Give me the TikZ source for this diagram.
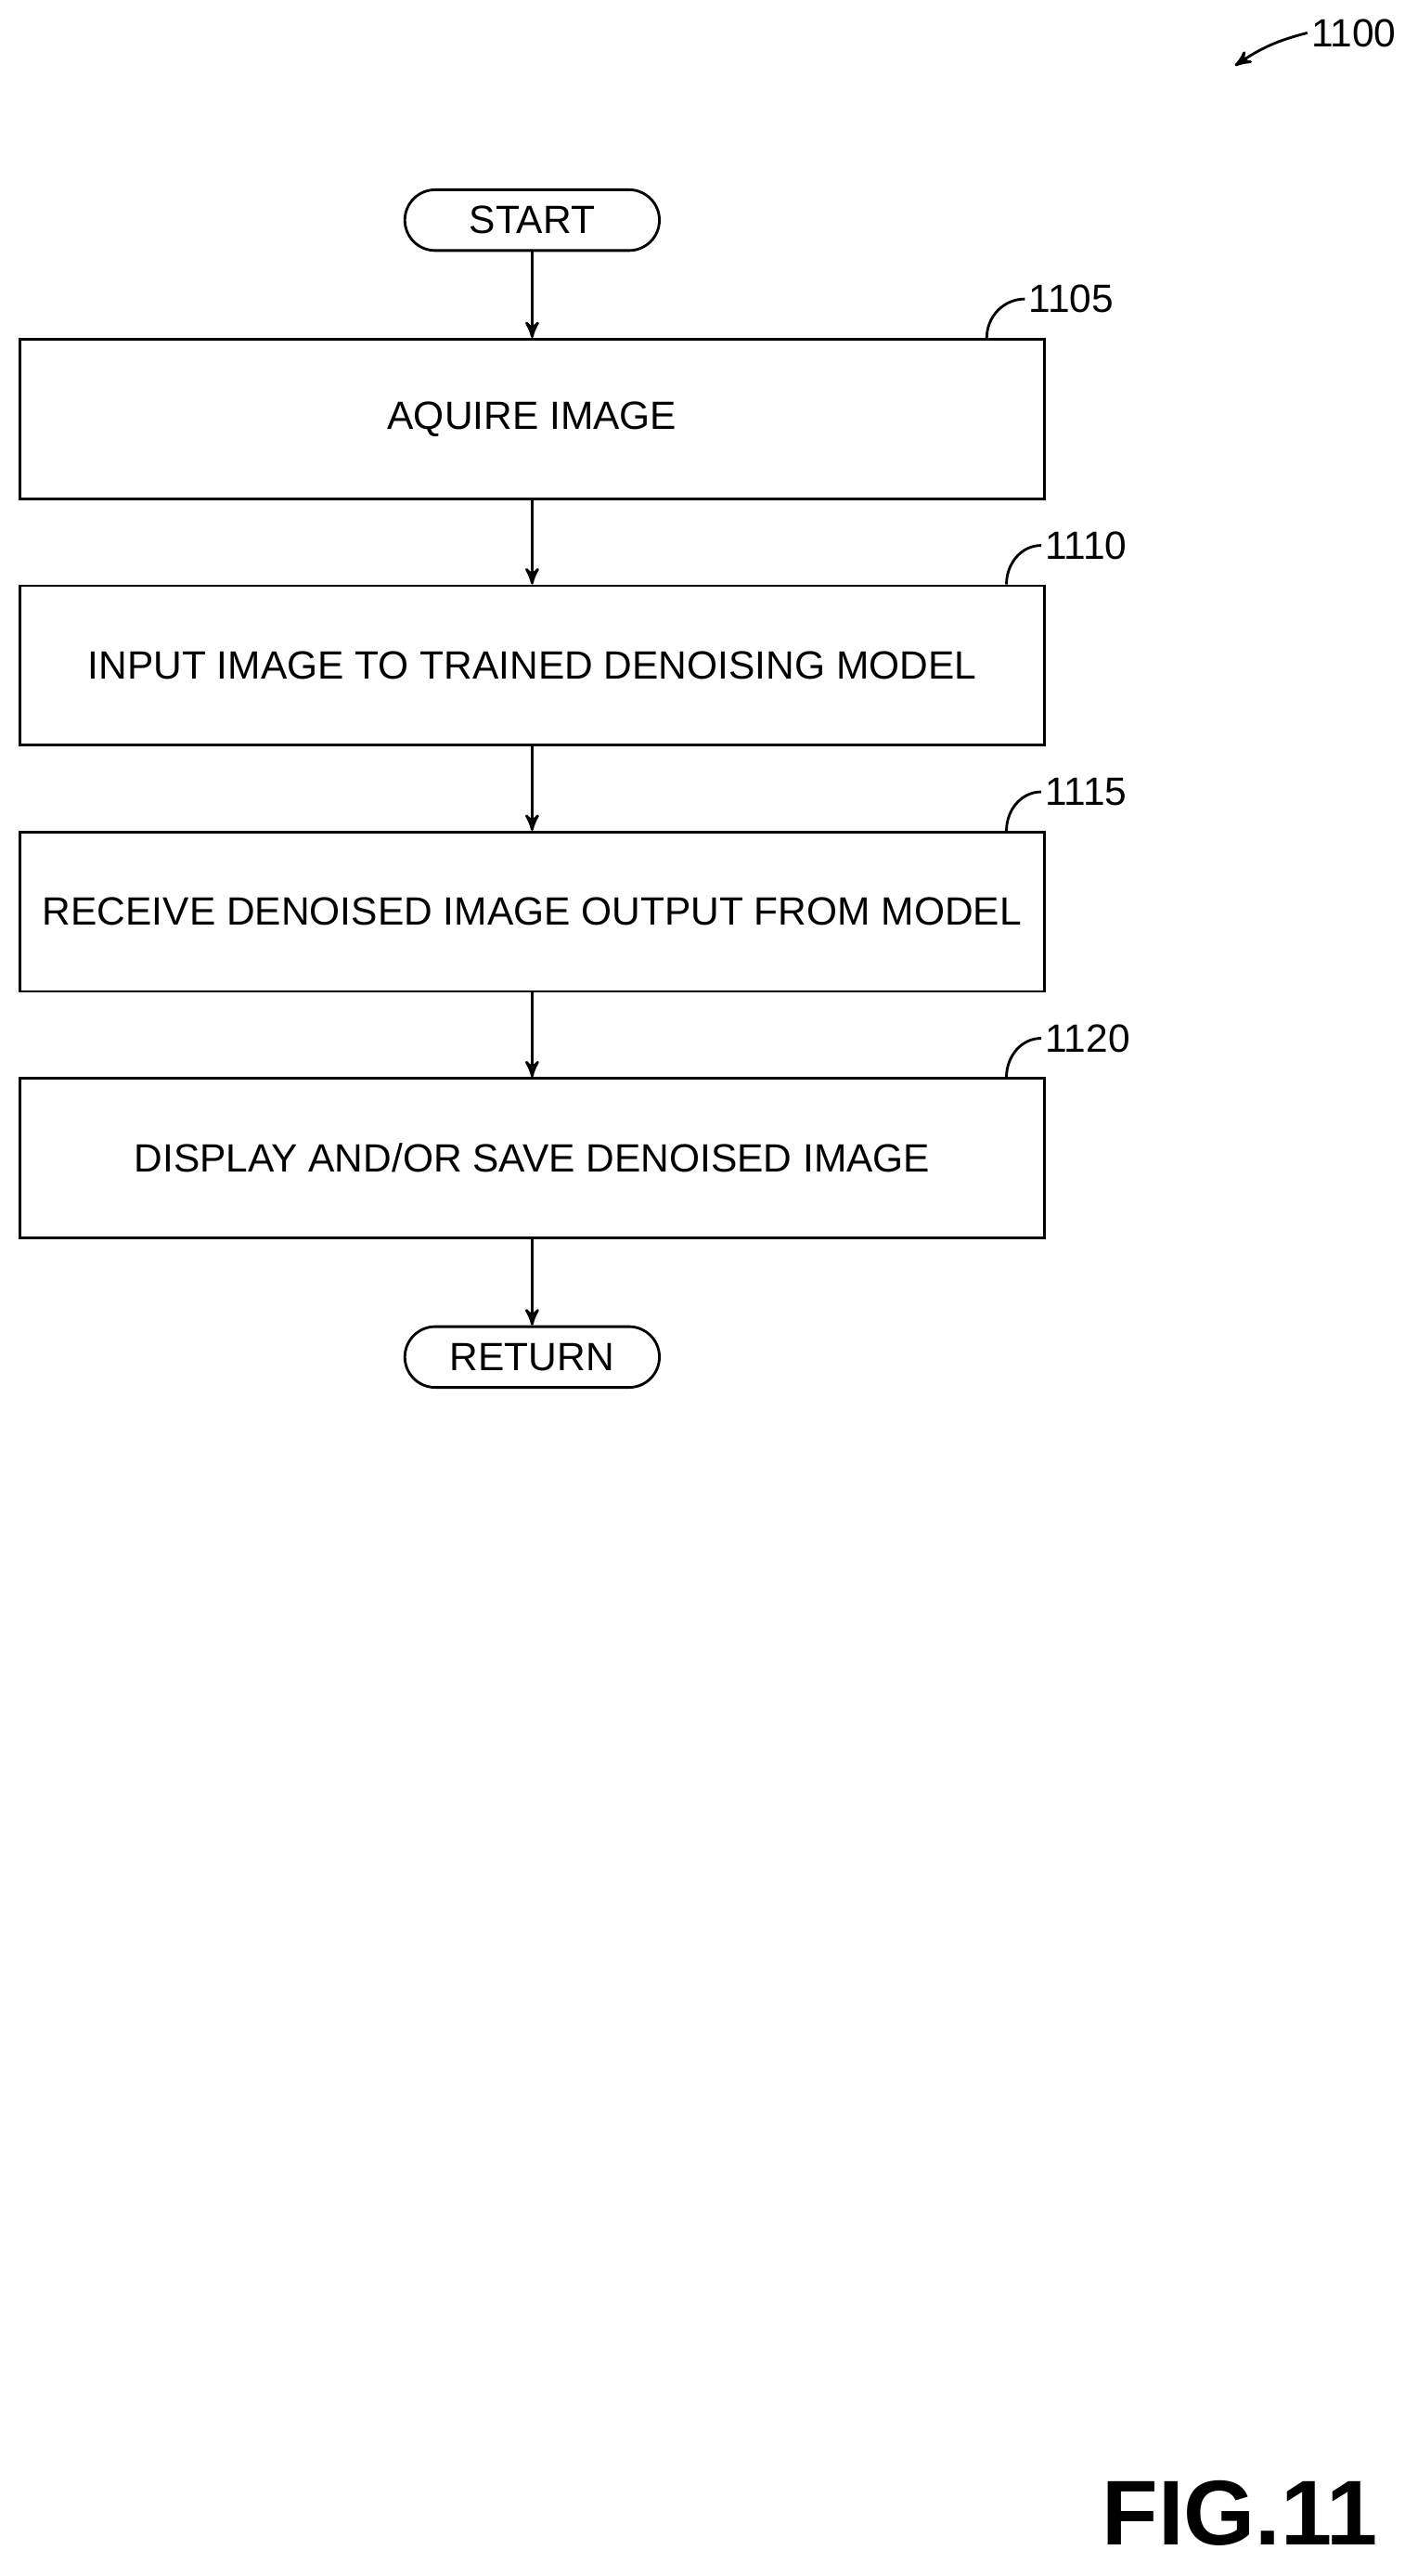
\documentclass[tikz,border=0pt]{standalone}
\usepackage{fontspec}
\setmainfont{Liberation Sans}
\usetikzlibrary{positioning,arrows}
\begin{document}
\begin{tikzpicture}[x=0.5pt,y=-0.5pt,>=stealth',
        font=\fontsize{12}{14}\selectfont,
        box/.style={draw,thick,minimum width=312pt,minimum height=48.5pt,inner sep=0pt},
        term/.style={draw,thick,rounded corners=9.25pt,minimum width=77.5pt,minimum height=18.5pt,inner sep=0pt},
        ref/.style={inner sep=1pt}]
\useasboundingbox (0,0) rectangle (855,1568);

\node[term] (start) at (324,134) {START};
\node[box] (1105) at (324,255) {AQUIRE IMAGE};
\node[box] (1110) at (324,405) {INPUT IMAGE TO TRAINED DENOISING MODEL};
\node[box] (1115) at (324,555) {RECEIVE DENOISED IMAGE OUTPUT FROM MODEL};
\node[box] (1120) at (324,705) {DISPLAY AND/OR SAVE DENOISED IMAGE};
\node[term] (return) at (324,826) {RETURN};

\path[->,thick] (start) edge (1105)
      (1105) edge (1110)
      (1110) edge (1115)
      (1115) edge (1120)
      (1120) edge (return);

% reference numerals
\node[ref,anchor=west] (r1105) at (624,182) {1105};
\node[ref,anchor=west] (r1110) at (634,332) {1110};
\node[ref,anchor=west] (r1115) at (634,482) {1115};
\node[ref,anchor=west] (r1120) at (634,632) {1120};
\draw[thick] ([xshift=-18pt]1105.north east) to[out=90,in=180] (r1105.west);
\foreach \s in {1110,1115,1120}
  \draw[thick] ([xshift=-12pt]\s.north east) to[out=90,in=180] (r\s.west);

\node[ref,anchor=west] (r1100) at (796,20) {1100};
\coordinate (p1100) at (752,40);
\draw[->,thick] (r1100.west) to[bend right=10] (p1100);

\node[font=\bfseries\fontsize{28}{32}\selectfont] (fig) at (755,1530) {FIG.11};
\end{tikzpicture}
\end{document}
